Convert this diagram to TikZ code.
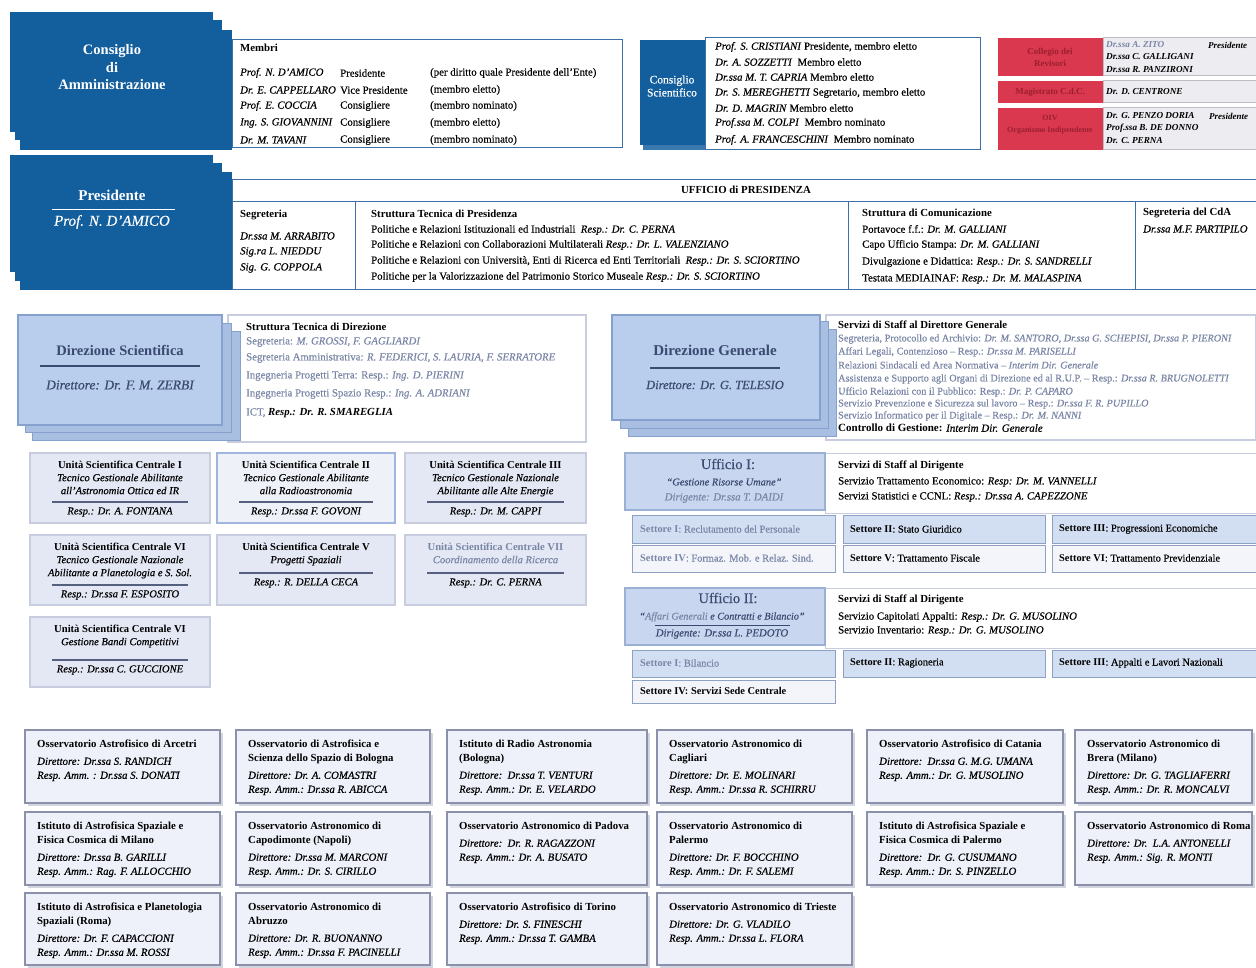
\documentclass[tikz,border=0pt]{standalone}
\usepackage{fontspec}
\setmainfont{Liberation Serif}[UprightFeatures={FakeBold=0.35},ItalicFeatures={FakeBold=0.35}]
\newcommand\myfs[1]{\fontsize{#1}{#1}\selectfont}
\definecolor{dblue}{HTML}{135E9C}
\definecolor{dblue2}{HTML}{3A78B0}
\definecolor{bline}{HTML}{3D70AB}
\definecolor{cred}{HTML}{D9384E}
\definecolor{dred}{HTML}{9C1F30}
\definecolor{gpanel}{HTML}{ECECF1}
\definecolor{gline}{HTML}{BDBDC6}
\definecolor{lbfill}{HTML}{B9CDEC}
\definecolor{lbback}{HTML}{A9BFE2}
\definecolor{lbline}{HTML}{86A1CE}
\definecolor{ufill}{HTML}{E4E8F4}
\definecolor{uline}{HTML}{C7CCDE}
\definecolor{u2line}{HTML}{9FB5E0}
\definecolor{offill}{HTML}{C8D7EF}
\definecolor{ofline}{HTML}{9BB0D5}
\definecolor{sfill}{HTML}{D2DEF2}
\definecolor{sline}{HTML}{8DA1C5}
\definecolor{s2fill}{HTML}{F3F5FB}
\definecolor{obfill}{HTML}{EEF0FA}
\definecolor{obline}{HTML}{8B91AA}
\definecolor{obshad}{HTML}{D3D5DE}
\definecolor{blur}{HTML}{7A86A6}
\definecolor{dnavy}{HTML}{3B4A70}
\definecolor{rulec}{HTML}{55607E}
\tikzset{
  bx/.style={anchor=north west, inner sep=0pt, outer sep=0pt},
  tl/.style={anchor=west, inner sep=0pt, font=\myfs{10.8}},
  tc/.style={anchor=center, inner sep=0pt, font=\myfs{10.8}},
  wt/.style={anchor=center, inner sep=0pt, align=center, text=white},
  darkb/.style={fill=dblue, draw=none},
  wbox/.style={fill=white, draw=bline, line width=1pt},
  redb/.style={fill=cred, draw=none},
  gbox/.style={fill=gpanel, draw=gline, line width=1pt},
  dirb/.style={fill=lbfill, draw=lbline, line width=1.2pt},
  dirback/.style={fill=lbback, draw=lbline, line width=1pt},
  stbox/.style={fill=white, draw=uline, line width=1.5pt},
  unitb/.style={fill=ufill, draw=uline, line width=2pt},
  unitc/.style={fill=ufill!60!white, draw=u2line, line width=1.5pt},
  uffb/.style={fill=offill, draw=ofline, line width=1.2pt},
  servb/.style={fill=white, draw=uline, line width=1pt},
  set1/.style={fill=sfill, draw=sline, line width=1pt},
  set2/.style={fill=s2fill, draw=sline, line width=1pt},
  obsb/.style={fill=obfill, draw=obline, line width=1.5pt},
  obsh/.style={fill=obshad, draw=none},
  rulel/.style={draw=rulec, line width=1.8pt},
}
\newcommand\bx[6]{\node[bx,#1,minimum width={(#5)-(#3)},minimum height={(#6)-(#4)}] (#2) at ({#3},{#4}) {};}
\newcommand\obs[6]{%
  \bx{obsh}{#1s}{#2+3}{#3+3}{#4+3}{#5+3}%
  \bx{obsb}{#1}{#2}{#3}{#4}{#5}%
  \node[anchor=north west,align=left,inner sep=0pt,font={\fontsize{10.8}{14}\selectfont}] (#1t) at ({#2+12},{#3+10}) {#6};}
\newcommand\unit[9][unitb]{%
  \bx{#1}{#2}{#3}{#4}{#5}{#6}%
  \node[anchor=north,align=center,inner sep=0pt,font={\fontsize{10.6}{13}\selectfont}] (#2t) at ({(#3+#5)/2},{#4+7.5}) {#7};%
  \draw[rulel] ({#3+22},{#8}) -- ({#5-22},{#8});%
  \node[tc,font=\myfs{10.6}\itshape] (#2r) at ({(#3+#5)/2},{#8+10}) {#9};}
\begin{document}
\begin{tikzpicture}[x=1pt,y=-1pt]
\fill[white] (0,0) rectangle (1256,968);
\path[use as bounding box] (0,0) rectangle (1256,968);

% ---------------- Consiglio di Amministrazione
\bx{darkb}{caA}{10}{12}{213}{132}
\bx{darkb}{caB}{15}{20}{222}{140}
\bx{darkb}{caC}{20}{30}{232}{150}
\node[wt,font={\fontsize{14.5}{17.5}\selectfont\bfseries}] (catext) at (112,67.5) {Consiglio\\di\\Amministrazione};
\bx{wbox}{membri}{232}{40}{622}{148}
\node[tl,font=\myfs{10.8}\bfseries] (mtit) at (240,48) {Membri};
\node[tl,font=\myfs{10.8}\itshape] (m1a) at (240,73) {Prof. N. D'AMICO};
\node[tl] (m1b) at (340,73) {Presidente};
\node[tl] (m1c) at (430,73) {(per diritto quale Presidente dell'Ente)};
\node[tl,font=\myfs{10.8}\itshape] (m2a) at (240,90) {Dr. E. CAPPELLARO};
\node[tl] (m2b) at (340,90) {Vice Presidente};
\node[tl] (m2c) at (430,90) {(membro eletto)};
\node[tl,font=\myfs{10.8}\itshape] (m3a) at (240,106) {Prof. E. COCCIA};
\node[tl] (m3b) at (340,106) {Consigliere};
\node[tl] (m3c) at (430,106) {(membro nominato)};
\node[tl,font=\myfs{10.8}\itshape] (m4a) at (240,123) {Ing. S. GIOVANNINI};
\node[tl] (m4b) at (340,123) {Consigliere};
\node[tl] (m4c) at (430,123) {(membro eletto)};
\node[tl,font=\myfs{10.8}\itshape] (m5a) at (240,140) {Dr. M. TAVANI};
\node[tl] (m5b) at (340,140) {Consigliere};
\node[tl] (m5c) at (430,140) {(membro nominato)};

% ---------------- Consiglio Scientifico
\bx{fill=dblue2}{csB}{643}{44}{708}{150}
\bx{wbox}{csbox}{705}{38}{980}{150}
\bx{darkb}{cs}{640}{40}{705}{145}
\node[wt,font={\fontsize{11.5}{13}\selectfont}] (cstext) at (672,86) {Consiglio\\Scientifico};
\node[tl] (cs1) at (715,47) {\textit{Prof. S. CRISTIANI} Presidente, membro eletto};
\node[tl] (cs2) at (715,62) {\textit{Dr. A. SOZZETTI}\ \ Membro eletto};
\node[tl] (cs3) at (715,77) {\textit{Dr.ssa M. T. CAPRIA} Membro eletto};
\node[tl] (cs4) at (715,93) {\textit{Dr. S. MEREGHETTI} Segretario, membro eletto};
\node[tl] (cs5) at (715,108) {\textit{Dr. D. MAGRIN} Membro eletto};
\node[tl] (cs6) at (715,123) {\textit{Prof.ssa M. COLPI}\ \ Membro nominato};
\node[tl] (cs7) at (715,140) {\textit{Prof. A. FRANCESCHINI}\ \ Membro nominato};

% ---------------- Collegio / Magistrato / OIV
\bx{gbox}{g1}{1103}{38}{1256}{76}
\bx{gbox}{g2}{1103}{81}{1256}{103}
\bx{gbox}{g3}{1103}{108}{1256}{150}
\bx{redb}{r1}{998}{38}{1103}{76}
\bx{redb}{r2}{998}{81}{1103}{103}
\bx{redb}{r3}{998}{108}{1103}{150}
\node[wt,text=dred,font={\fontsize{9}{12}\selectfont\bfseries}] (r1t) at (1050,57) {Collegio dei\\Revisori};
\node[wt,text=dred,font={\fontsize{9}{12}\selectfont\bfseries}] (r2t) at (1050,92) {Magistrato C.d.C.};
\node[wt,text=dred,font={\fontsize{8}{12}\selectfont\bfseries}] (r3t) at (1050,125) {OIV\\Organismo Indipendente};
\node[tl,font=\myfs{9.2}\bfseries\itshape,text=blur] (g1a) at (1106,45) {Dr.ssa A. ZITO};
\node[tl,font=\myfs{9}\bfseries\itshape] (g1p) at (1208,45) {Presidente};
\node[tl,font=\myfs{9.2}\bfseries\itshape] (g1b) at (1106,57) {Dr.ssa C. GALLIGANI};
\node[tl,font=\myfs{9.2}\bfseries\itshape] (g1c) at (1106,70) {Dr.ssa R. PANZIRONI};
\node[tl,font=\myfs{9.2}\bfseries\itshape] (g2a) at (1106,92) {Dr. D. CENTRONE};
\node[tl,font=\myfs{9.2}\bfseries\itshape] (g3a) at (1106,116) {Dr. G. PENZO DORIA};
\node[tl,font=\myfs{9}\bfseries\itshape] (g3p) at (1209,116) {Presidente};
\node[tl,font=\myfs{9.2}\bfseries\itshape] (g3b) at (1106,128) {Prof.ssa B. DE DONNO};
\node[tl,font=\myfs{9.2}\bfseries\itshape] (g3c) at (1106,141) {Dr. C. PERNA};

% ---------------- Presidente
\bx{darkb}{prA}{10}{155}{213}{272}
\bx{darkb}{prB}{15}{163}{222}{281}
\bx{darkb}{prC}{20}{172}{232}{290}
\node[wt,font=\myfs{15}\bfseries] (prt) at (112,195) {Presidente};
\draw[white,line width=1pt] (52,210) -- (175,210);
\node[wt,font=\myfs{15}\itshape] (prn) at (112,222) {Prof. N. D'AMICO};

% ---------------- Ufficio di Presidenza
\bx{wbox}{uphead}{232}{180}{1256}{202}
\node[tc,font=\myfs{10.8}\bfseries] (uptitle) at (746,190) {UFFICIO di PRESIDENZA};
\bx{wbox}{seg}{232}{202}{355}{290}
\bx{wbox}{stp}{355}{202}{848}{290}
\bx{wbox}{stc}{848}{202}{1135}{290}
\bx{wbox}{scda}{1135}{202}{1256}{290}
\node[tl,font=\myfs{10.8}\bfseries] (segt) at (240,215) {Segreteria};
\node[tl,font=\myfs{10.8}\itshape] (seg1) at (240,236) {Dr.ssa M. ARRABITO};
\node[tl,font=\myfs{10.8}\itshape] (seg2) at (240,252) {Sig.ra L. NIEDDU};
\node[tl,font=\myfs{10.8}\itshape] (seg3) at (240,268) {Sig. G. COPPOLA};
\node[tl,font=\myfs{10.8}\bfseries] (stpt) at (371,214) {Struttura Tecnica di Presidenza};
\node[tl] (stp1) at (371,230) {Politiche e Relazioni Istituzionali ed Industriali\ \ \textit{Resp.: Dr. C. PERNA}};
\node[tl] (stp2) at (371,245) {Politiche e Relazioni con Collaborazioni Multilaterali \textit{Resp.: Dr. L. VALENZIANO}};
\node[tl] (stp3) at (371,261) {Politiche e Relazioni con Università, Enti di Ricerca ed Enti Territoriali\ \ \textit{Resp.: Dr. S. SCIORTINO}};
\node[tl] (stp4) at (371,277) {Politiche per la Valorizzazione del Patrimonio Storico Museale \textit{Resp.: Dr. S. SCIORTINO}};
\node[tl,font=\myfs{10.8}\bfseries] (stct) at (862,213) {Struttura di Comunicazione};
\node[tl] (stc1) at (862,229) {Portavoce f.f.: \textit{Dr. M. GALLIANI}};
\node[tl] (stc2) at (862,245) {Capo Ufficio Stampa: \textit{Dr. M. GALLIANI}};
\node[tl] (stc3) at (862,262) {Divulgazione e Didattica: \textit{Resp.: Dr. S. SANDRELLI}};
\node[tl] (stc4) at (862,279) {Testata MEDIAINAF: \textit{Resp.: Dr. M. MALASPINA}};
\node[tl,font=\myfs{10.8}\bfseries] (scdat) at (1143,213) {Segreteria del CdA};
\node[tl,font=\myfs{10.8}\itshape] (scda1) at (1143,229) {Dr.ssa M.F. PARTIPILO};

% ---------------- Direzione Scientifica
\bx{stbox}{std}{228}{315}{586}{442}
\bx{dirback}{dsC}{32}{332}{240}{440}
\bx{dirback}{dsB}{25}{324}{231}{432}
\bx{dirb}{ds}{18}{315}{222}{425}
\node[wt,text=dnavy,font=\myfs{14.5}\bfseries] (dst) at (120,350) {Direzione Scientifica};
\draw[dnavy,line width=1.2pt] (40,366) -- (200,366);
\node[wt,text=dnavy,font=\myfs{13.5}\itshape] (dsn) at (120,385) {Direttore: Dr. F. M. ZERBI};
\node[tl,font=\myfs{10.8}\bfseries] (stdt) at (246,327) {Struttura Tecnica di Direzione};
\node[tl,text=blur] (std1) at (246,342) {Segreteria: \textit{M. GROSSI, F. GAGLIARDI}};
\node[tl,text=blur] (std2) at (246,358) {Segreteria Amministrativa: \textit{R. FEDERICI, S. LAURIA, F. SERRATORE}};
\node[tl,text=blur] (std3) at (246,376) {Ingegneria Progetti Terra: Resp.: \textit{Ing. D. PIERINI}};
\node[tl,text=blur] (std4) at (246,394) {Ingegneria Progetti Spazio Resp.: \textit{Ing. A. ADRIANI}};
\node[tl] (std5) at (246,413) {\textcolor{blur}{ICT,} \textbf{\textit{Resp.: Dr. R. SMAREGLIA}}};

% ---------------- Direzione Generale
\bx{stbox}{sdg}{826}{315}{1256}{440}
\bx{dirback}{dgC}{628}{330}{836}{436}
\bx{dirback}{dgB}{620}{322}{828}{428}
\bx{dirb}{dg}{612}{315}{820}{420}
\node[wt,text=dnavy,font=\myfs{15}\bfseries] (dgt) at (715,350) {Direzione Generale};
\draw[dnavy,line width=1.2pt] (650,368) -- (780,368);
\node[wt,text=dnavy,font=\myfs{12.5}\itshape] (dgn) at (715,385) {Direttore: Dr. G. TELESIO};
\node[tl,font=\myfs{10.8}\bfseries] (sdgt) at (838,325) {Servizi di Staff al Direttore Generale};
\node[tl,font=\myfs{10.2},text=blur] (sdg1) at (838,339) {Segreteria, Protocollo ed Archivio: \textit{Dr. M. SANTORO, Dr.ssa G. SCHEPISI, Dr.ssa P. PIERONI}};
\node[tl,font=\myfs{10.2},text=blur] (sdg2) at (838,352) {Affari Legali, Contenzioso -- Resp.: \textit{Dr.ssa M. PARISELLI}};
\node[tl,font=\myfs{10.2},text=blur] (sdg3) at (838,365) {Relazioni Sindacali ed Area Normativa -- \textit{Interim Dir. Generale}};
\node[tl,font=\myfs{10.2},text=blur] (sdg4) at (838,379) {Assistenza e Supporto agli Organi di Direzione ed al R.U.P. -- Resp.: \textit{Dr.ssa R. BRUGNOLETTI}};
\node[tl,font=\myfs{10.2},text=blur] (sdg5) at (838,392) {Ufficio Relazioni con il Pubblico: Resp.: \textit{Dr. P. CAPARO}};
\node[tl,font=\myfs{10.2},text=blur] (sdg6) at (838,404) {Servizio Prevenzione e Sicurezza sul lavoro -- Resp.: \textit{Dr.ssa F. R. PUPILLO}};
\node[tl,font=\myfs{10.2},text=blur] (sdg7) at (838,416) {Servizio Informatico per il Digitale -- Resp.: \textit{Dr. M. NANNI}};
\node[tl,font=\myfs{11}] (sdg8) at (838,428) {\textbf{Controllo di Gestione:} \textit{Interim Dir. Generale}};

% ---------------- Unita Scientifiche Centrali
\unit{u1}{30}{453}{210}{523}{\textbf{Unità Scientifica Centrale I}\\\textit{Tecnico Gestionale Abilitante}\\\textit{all'Astronomia Ottica ed IR}}{502}{Resp.: Dr. A. FONTANA}
\unit[unitc]{u2}{217}{453}{395}{523}{\textbf{Unità Scientifica Centrale II}\\\textit{Tecnico Gestionale Abilitante}\\\textit{alla Radioastronomia}}{502}{Resp.: Dr.ssa F. GOVONI}
\unit{u3}{405}{453}{586}{523}{\textbf{Unità Scientifica Centrale III}\\\textit{Tecnico Gestionale Nazionale}\\\textit{Abilitante alle Alte Energie}}{502}{Resp.: Dr. M. CAPPI}
\unit{u4}{30}{535}{210}{605}{\textbf{Unità Scientifica Centrale VI}\\\textit{Tecnico Gestionale Nazionale}\\\textit{Abilitante a Planetologia e S. Sol.}}{585}{Resp.: Dr.ssa F. ESPOSITO}
\unit{u5}{217}{535}{395}{605}{\textbf{Unità Scientifica Centrale V}\\\textit{Progetti Spaziali}}{573}{Resp.: R. DELLA CECA}
\unit{u6}{405}{535}{586}{605}{\textbf{\textcolor{blur}{Unità Scientifica Centrale VII}}\\\textit{\textcolor{blur}{Coordinamento della Ricerca}}}{573}{Resp.: Dr. C. PERNA}
\unit{u7}{30}{617}{210}{687}{\textbf{Unità Scientifica Centrale VI}\\\textit{Gestione Bandi Competitivi}}{660}{Resp.: Dr.ssa C. GUCCIONE}

% ---------------- Ufficio I
\bx{servb}{sv1}{825}{453}{1256}{513}
\bx{uffb}{uf1}{625}{453}{825}{510}
\node[tc,font=\myfs{14.5},text=dnavy] (uf1t) at (728,464) {Ufficio I:};
\node[tc,font=\myfs{10.4}\itshape,text=dnavy] (uf1a) at (724,482) {“Gestione Risorse Umane”};
\node[tc,font=\myfs{10.8}\itshape,text=blur] (uf1b) at (724,498) {Dirigente: Dr.ssa T. DAIDI};
\node[tl,font=\myfs{10.8}\bfseries] (sv1t) at (838,466) {Servizi di Staff al Dirigente};
\node[tl] (sv1a) at (838,482) {Servizio Trattamento Economico: \textit{Resp: Dr. M. VANNELLI}};
\node[tl] (sv1b) at (838,497) {Servizi Statistici e CCNL: \textit{Resp.: Dr.ssa A. CAPEZZONE}};
\bx{set1}{s11}{632}{515}{835}{543}
\bx{set1}{s12}{843}{515}{1045}{543}
\bx{set1}{s13}{1052}{515}{1256}{543}
\bx{set2}{s14}{632}{545}{835}{572}
\bx{set2}{s15}{843}{545}{1045}{572}
\bx{set2}{s16}{1052}{545}{1256}{572}
\node[tl,font=\myfs{10.4},text=blur] (s11t) at (640,529) {\textbf{Settore I}: Reclutamento del Personale};
\node[tl,font=\myfs{10.4}] (s12t) at (850,529) {\textbf{Settore II}: Stato Giuridico};
\node[tl,font=\myfs{10.4}] (s13t) at (1059,529) {\textbf{Settore III}: Progressioni Economiche};
\node[tl,font=\myfs{10.4},text=blur] (s14t) at (640,558) {\textbf{Settore IV}: Formaz. Mob. e Relaz. Sind.};
\node[tl,font=\myfs{10.4}] (s15t) at (850,558) {\textbf{Settore V}: Trattamento Fiscale};
\node[tl,font=\myfs{10.4}] (s16t) at (1059,558) {\textbf{Settore VI}: Trattamento Previdenziale};

% ---------------- Ufficio II
\bx{servb}{sv2}{825}{588}{1256}{648}
\bx{uffb}{uf2}{625}{588}{825}{645}
\node[tc,font=\myfs{14.5},text=dnavy] (uf2t) at (728,598) {Ufficio II:};
\node[tc,font=\myfs{10.2}\itshape,text=dnavy] (uf2a) at (722,617) {“\textcolor{blur}{Affari Generali} e Contratti e Bilancio”};
\draw[dnavy,line width=0.8pt] (655,625) -- (790,625);
\node[tc,font=\myfs{10.8}\itshape,text=dnavy] (uf2b) at (722,634) {Dirigente: Dr.ssa L. PEDOTO};
\node[tl,font=\myfs{10.8}\bfseries] (sv2t) at (838,600) {Servizi di Staff al Dirigente};
\node[tl] (sv2a) at (838,617) {Servizio Capitolati Appalti: \textit{Resp.: Dr. G. MUSOLINO}};
\node[tl] (sv2b) at (838,631) {Servizio Inventario: \textit{Resp.: Dr. G. MUSOLINO}};
\bx{set1}{s21}{632}{650}{835}{677}
\bx{set1}{s22}{843}{650}{1045}{677}
\bx{set1}{s23}{1052}{650}{1256}{677}
\bx{set2}{s24}{632}{680}{835}{703}
\node[tl,font=\myfs{10.4},text=blur] (s21t) at (640,663) {\textbf{Settore I}: Bilancio};
\node[tl,font=\myfs{10.4}] (s22t) at (850,663) {\textbf{Settore II}: Ragioneria};
\node[tl,font=\myfs{10.4}] (s23t) at (1059,663) {\textbf{Settore III}: Appalti e Lavori Nazionali};
\node[tl,font=\myfs{10.4}\bfseries] (s24t) at (640,691) {Settore IV: Servizi Sede Centrale};

% ---------------- Strutture di ricerca
\obs{o11}{25}{730}{220}{803}{\textbf{Osservatorio Astrofisico di Arcetri}\\[3pt]\textit{Direttore: Dr.ssa S. RANDICH}\\\textit{Resp. Amm. : Dr.ssa S. DONATI}}
\obs{o12}{236}{730}{430}{803}{\textbf{Osservatorio di Astrofisica e}\\\textbf{Scienza dello Spazio di Bologna}\\[3pt]\textit{Direttore: Dr. A. COMASTRI}\\\textit{Resp. Amm.: Dr.ssa R. ABICCA}}
\obs{o13}{447}{730}{647}{803}{\textbf{Istituto di Radio Astronomia}\\\textbf{(Bologna)}\\[3pt]\textit{Direttore:\ \ Dr.ssa T. VENTURI}\\\textit{Resp. Amm.: Dr. E. VELARDO}}
\obs{o14}{657}{730}{852}{803}{\textbf{Osservatorio Astronomico di}\\\textbf{Cagliari}\\[3pt]\textit{Direttore: Dr. E. MOLINARI}\\\textit{Resp. Amm.: Dr.ssa R. SCHIRRU}}
\obs{o15}{867}{730}{1063}{803}{\textbf{Osservatorio Astrofisico di Catania}\\[3pt]\textit{Direttore:\ \ Dr.ssa G. M.G. UMANA}\\\textit{Resp. Amm.: Dr. G. MUSOLINO}}
\obs{o16}{1075}{730}{1252}{803}{\textbf{Osservatorio Astronomico di}\\\textbf{Brera (Milano)}\\[3pt]\textit{Direttore: Dr. G. TAGLIAFERRI}\\\textit{Resp. Amm.: Dr. R. MONCALVI}}
\obs{o21}{25}{812}{220}{885}{\textbf{Istituto di Astrofisica Spaziale e}\\\textbf{Fisica Cosmica di Milano}\\[3pt]\textit{Direttore: Dr.ssa B. GARILLI}\\\textit{Resp. Amm.: Rag. F. ALLOCCHIO}}
\obs{o22}{236}{812}{430}{885}{\textbf{Osservatorio Astronomico di}\\\textbf{Capodimonte (Napoli)}\\[3pt]\textit{Direttore: Dr.ssa M. MARCONI}\\\textit{Resp. Amm.: Dr. S. CIRILLO}}
\obs{o23}{447}{812}{647}{885}{\textbf{Osservatorio Astronomico di Padova}\\[3pt]\textit{Direttore:\ \ Dr. R. RAGAZZONI}\\\textit{Resp. Amm.: Dr. A. BUSATO}}
\obs{o24}{657}{812}{852}{885}{\textbf{Osservatorio Astronomico di}\\\textbf{Palermo}\\[3pt]\textit{Direttore: Dr. F. BOCCHINO}\\\textit{Resp. Amm.: Dr. F. SALEMI}}
\obs{o25}{867}{812}{1063}{885}{\textbf{Istituto di Astrofisica Spaziale e}\\\textbf{Fisica Cosmica di Palermo}\\[3pt]\textit{Direttore:\ \ Dr. G. CUSUMANO}\\\textit{Resp. Amm.: Dr. S. PINZELLO}}
\obs{o26}{1075}{812}{1252}{885}{\textbf{Osservatorio Astronomico di Roma}\\[3pt]\textit{Direttore: Dr.\ \ L.A. ANTONELLI}\\\textit{Resp. Amm.: Sig. R. MONTI}}
\obs{o31}{25}{893}{220}{965}{\textbf{Istituto di Astrofisica e Planetologia}\\\textbf{Spaziali (Roma)}\\[3pt]\textit{Direttore: Dr. F. CAPACCIONI}\\\textit{Resp. Amm.: Dr.ssa M. ROSSI}}
\obs{o32}{236}{893}{430}{965}{\textbf{Osservatorio Astronomico di}\\\textbf{Abruzzo}\\[3pt]\textit{Direttore: Dr. R. BUONANNO}\\\textit{Resp. Amm.: Dr.ssa F. PACINELLI}}
\obs{o33}{447}{893}{647}{965}{\textbf{Osservatorio Astrofisico di Torino}\\[3pt]\textit{Direttore: Dr. S. FINESCHI}\\\textit{Resp. Amm.: Dr.ssa T. GAMBA}}
\obs{o34}{657}{893}{852}{965}{\textbf{Osservatorio Astronomico di Trieste}\\[3pt]\textit{Direttore: Dr. G. VLADILO}\\\textit{Resp. Amm.: Dr.ssa L. FLORA}}
\end{tikzpicture}
\end{document}
